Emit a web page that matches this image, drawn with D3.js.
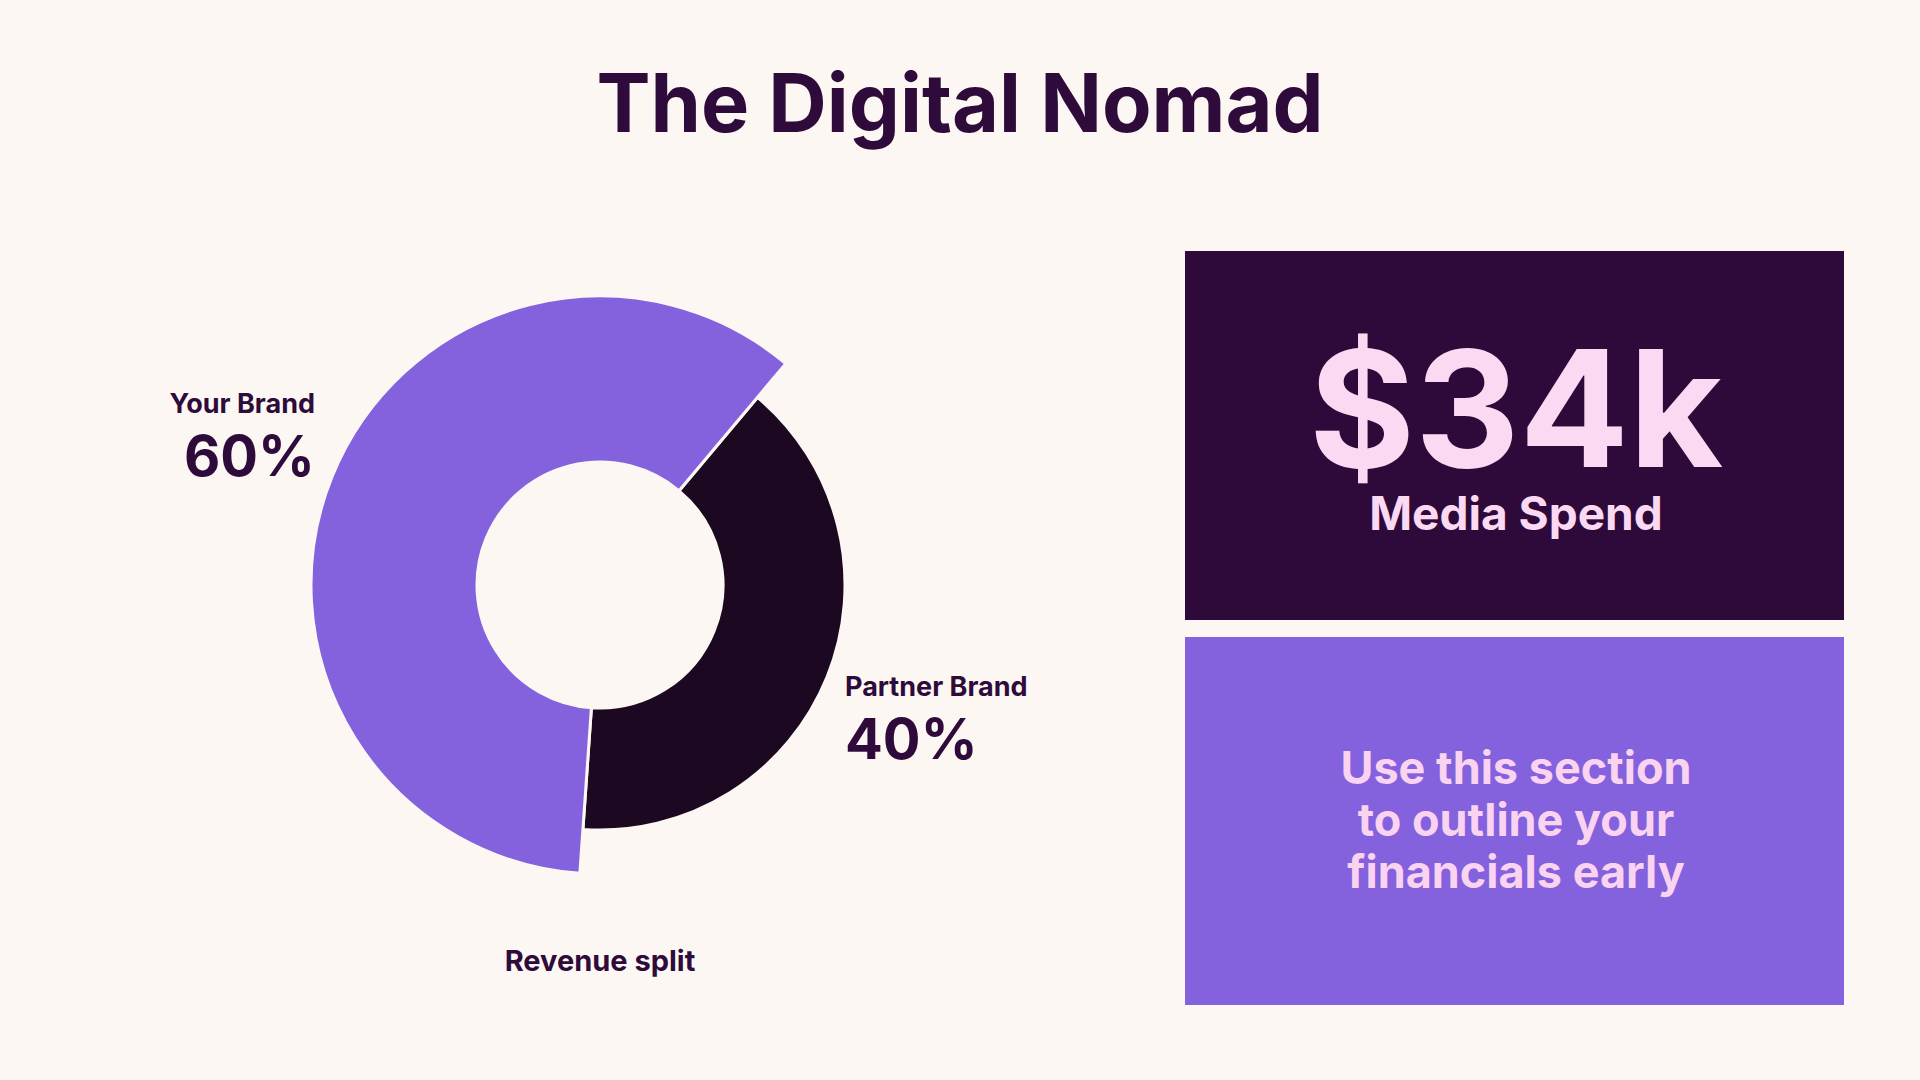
<!DOCTYPE html>
<html><head><meta charset="utf-8">
<script src="https://cdn.jsdelivr.net/npm/d3@7"></script>
<style>body{margin:0;background:#fcf7f3}</style></head>
<body><svg id="c" width="1920" height="1080"></svg>
<script>
const categories = ["Partner Brand", "Your Brand"];
const values = [40, 60];
const colors = ["#1c0820", "#8462de"];
const kpiValue = "$34k";
const kpiLabel = "Media Spend";
const noteLines = ["Use this section", "to outline your", "financials early"];

const svg = d3.select("#c");
const F = "Inter, 'Open Sans', sans-serif";
svg.append("rect").attr("width",1920).attr("height",1080).attr("fill","#fcf7f3");
svg.append("text").attr("x",960).attr("y",132).attr("text-anchor","middle")
  .attr("font-family",F).attr("font-weight",700).attr("font-size",81).attr("fill","#2e0b3a").text("The Digital Nomad");

const g = svg.append("g").attr("transform","translate(600,585)");
const start = 40*Math.PI/180;
const pie = d3.pie().sort(null).startAngle(start).endAngle(start+2*Math.PI)(values);
const outer = [245, 289];
g.selectAll("path").data(pie).join("path")
  .attr("d",(d,i)=>d3.arc().innerRadius(123).outerRadius(outer[i])(d))
  .attr("fill",(d,i)=>colors[i]).attr("stroke","#fcf7f3").attr("stroke-width",3);

const lab = svg.append("g").attr("font-family",F).attr("font-weight",700).attr("fill","#2e0b3a");
lab.append("text").attr("x",315).attr("y",413).attr("text-anchor","end").attr("font-size",27).text(categories[1]);
lab.append("text").attr("x",315).attr("y",476).attr("text-anchor","end").attr("font-size",56).text(values[1]+"%");
lab.append("text").attr("x",845).attr("y",696).attr("font-size",27).text(categories[0]);
lab.append("text").attr("x",845).attr("y",759).attr("font-size",56).text(values[0]+"%");
lab.append("text").attr("x",600).attr("y",971).attr("text-anchor","middle").attr("font-size",29).text("Revenue split");

svg.append("rect").attr("x",1185).attr("y",251).attr("width",659).attr("height",369).attr("fill","#2e0a3a");
svg.append("rect").attr("x",1185).attr("y",637).attr("width",659).attr("height",368).attr("fill","#8462de");
svg.append("text").attr("x",1516).attr("y",467).attr("text-anchor","middle").attr("font-family",F).attr("font-weight",700)
  .attr("font-size",162).attr("fill","#fcd9f2").text(kpiValue);
svg.append("text").attr("x",1516).attr("y",530).attr("text-anchor","middle").attr("font-family",F).attr("font-weight",700)
  .attr("font-size",46).attr("fill","#fcd9f2").text(kpiLabel);
noteLines.forEach((t,i)=>svg.append("text").attr("x",1516).attr("y",784+i*52).attr("text-anchor","middle")
  .attr("font-family",F).attr("font-weight",700).attr("font-size",45).attr("fill","#f9d3f0").text(t));
</script></body></html>
